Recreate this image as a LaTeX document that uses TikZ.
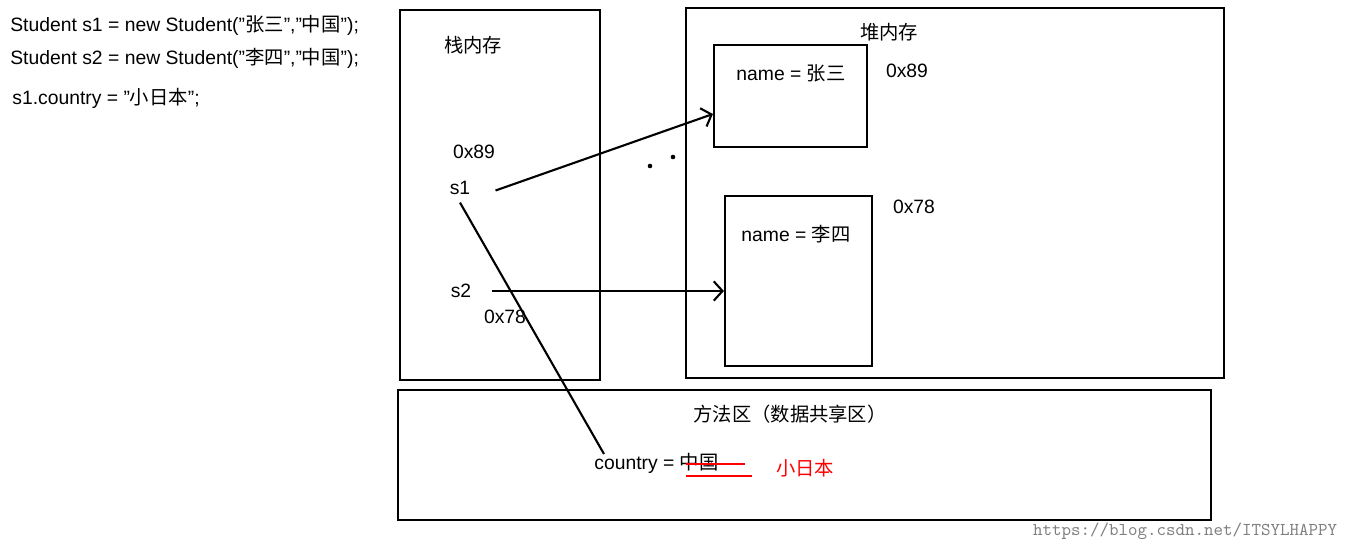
\documentclass[tikz,border=0pt]{standalone}
\usepackage{fontspec}
\setmainfont{Liberation Sans}
\newfontfamily\cjk{Noto Sans CJK SC}
\usetikzlibrary{positioning, arrows.meta}
\newcommand{\qt}{\symbol{34}}
\tikzstyle{area} = [draw=black, line width=1.2pt]
\tikzstyle{txt} = [inner sep=0pt, font=\fontsize{11pt}{13pt}\selectfont]
\tikzstyle{arrow} = [line width=1.2pt, -{Straight Barb[length=5pt, width=11pt]}]
\begin{document}
\begin{tikzpicture}[x=0.02cm, y=-0.02cm]
    \useasboundingbox (0,0) rectangle (1352,551);
    % code lines
    \node [txt, anchor=west]	(line1)	at (10,25)	{Student s1 = new Student(\qt{\cjk 张三}\qt,\qt{\cjk 中国}\qt);};
    \node [txt, anchor=west]	(line2)	at (10,58)	{Student s2 = new Student(\qt{\cjk 李四}\qt,\qt{\cjk 中国}\qt);};
    \node [txt, anchor=west]	(line3)	at (12,98)	{s1.country = \qt{\cjk 小日本}\qt;};
    % stack
    \draw [area] (400,10) rectangle (600,380);
    \node [txt]	(stack)	at (473,45)	{\cjk 栈内存};
    \node [txt]	(addra)	at (474,152)	{0x89};
    \node [txt]	(s1)	at (460,188)	{s1};
    \node [txt]	(s2)	at (461,291)	{s2};
    \node [txt]	(addrb)	at (505,317)	{0x78};
    % heap
    \draw [area] (686,8) rectangle (1224,378);
    \node [txt]	(heap)	at (889,32)	{\cjk 堆内存};
    \node [area, minimum width=3.06cm, minimum height=2.04cm]	(obja)	at (790.5,96)	{};
    \node [txt]	at (791,73)	{name = {\cjk 张三}};
    \node [txt]	at (907,71)	{0x89};
    \node [area, minimum width=2.94cm, minimum height=3.4cm]	(objb)	at (798.5,281)	{};
    \node [txt]	at (796,234)	{name = {\cjk 李四}};
    \node [txt]	at (914,207)	{0x78};
    \fill (650,166) circle (1.3pt) (673,157) circle (1.3pt);
    % method area
    \draw [area] (398,390) rectangle (1211,520);
    \node [txt]	(method)	at (790,414)	{\cjk 方法区（数据共享区）};
    \node [txt, anchor=west]	(country)	at (594,463)	{country = {\cjk 中国}};
    \draw [red, line width=1.2pt] (686,464) -- (745,464) (686,476) -- (752,476);
    \node [txt, text=red]	(newval)	at (805,468)	{\cjk 小日本};
    \node [txt, text=gray, font=\ttfamily\fontsize{10.3pt}{11pt}\selectfont]	(mark)	at (1185,531)	{https://blog.csdn.net/ITSYLHAPPY};

    \draw [arrow] ([xshift=0.5cm, yshift=-0.05cm]s1.east) -- (obja.west |- 714,114);
    \draw [arrow] ([xshift=0.4cm]s2.east) -- (objb.west |- 727,291);
    \draw [line width=1.2pt] ([yshift=-0.15cm]s1.south) -- (604,454);
\end{tikzpicture}
\end{document}
